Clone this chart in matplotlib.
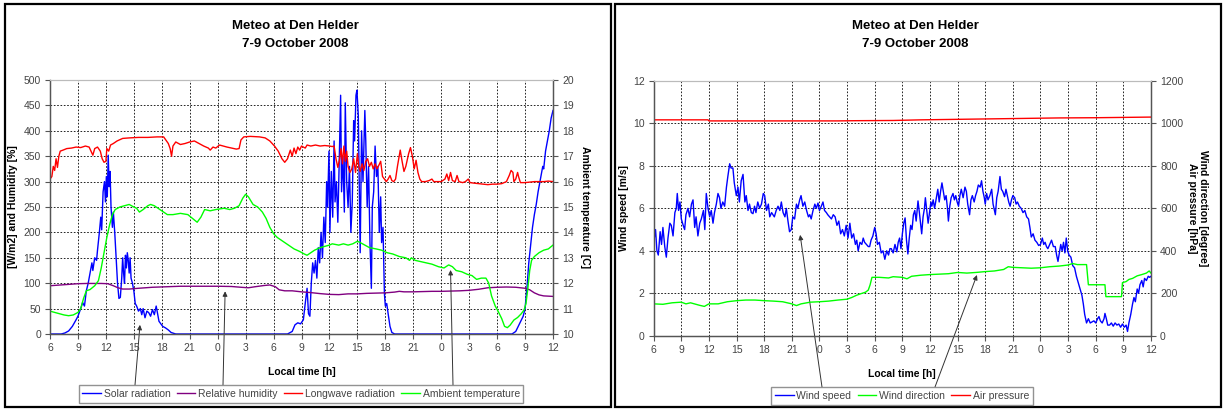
"""Meteo at Den Helder, 7-9 October 2008 - two Excel-style panels."""

import matplotlib
matplotlib.use("Agg")
import matplotlib.pyplot as plt
from matplotlib.patches import Rectangle

plt.rcParams["font.family"] = ["Liberation Sans", "DejaVu Sans"]

# time axis: hours since 06:00 on 7 October
tick_pos = list(range(0, 55, 3))
tick_labels = ["6", "9", "12", "15", "18", "21", "0", "3", "6", "9", "12",
               "15", "18", "21", "0", "3", "6", "9", "12"]

# ---- left panel --------------------------------------------------------
t_solar = [0, 1.2, 1.6, 2.0, 2.4, 2.8, 3.0, 3.3, 3.5, 3.7, 3.9, 4.1, 4.3, 4.5, 4.6, 4.8,
           5.0, 5.1, 5.3, 5.45, 5.55, 5.7, 5.85, 5.95, 6.05, 6.15, 6.25, 6.35, 6.45,
           6.55, 6.7, 6.8, 6.95, 7.1, 7.25, 7.4, 7.55, 7.7, 7.8, 7.9, 8.0, 8.1, 8.2,
           8.3, 8.4, 8.5, 8.6, 8.7, 8.85, 9.0, 9.15, 9.3, 9.5, 9.7, 9.85, 10.0, 10.2,
           10.4, 10.6, 10.8, 11.0, 11.2, 11.4, 11.55, 11.7, 11.9, 12.1, 12.4, 12.7,
           13.0, 13.5, 25.5, 26.0, 26.3, 26.6, 26.9, 27.2, 27.4, 27.6, 27.75, 27.9,
           28.05, 28.2, 28.35, 28.5, 28.65, 28.8, 28.95, 29.1, 29.25, 29.4, 29.55,
           29.7, 29.8, 29.95, 30.05, 30.2, 30.35, 30.5, 30.6, 30.75, 30.9, 31.05,
           31.2, 31.3, 31.45, 31.6, 31.7, 31.85, 32.0, 32.15, 32.3, 32.45, 32.6,
           32.7, 32.85, 32.95, 33.1, 33.2, 33.3, 33.45, 33.6, 33.8, 33.9, 34.05,
           34.2, 34.35, 34.5, 34.6, 34.75, 34.9, 35.05, 35.2, 35.35, 35.5, 35.6,
           35.75, 35.9, 36.0, 36.15, 36.3, 36.5, 36.7, 37.0, 49.6, 50.0, 50.4,
           50.8, 51.0, 51.2, 51.4, 51.6, 51.8, 52.0, 52.2, 52.4, 52.6, 52.8, 52.9,
           53.0, 53.2, 53.4, 53.6, 53.8, 54.0]
solar = [0, 0, 2, 6, 15, 28, 35, 50, 62, 55, 85, 100, 120, 140, 125, 150,
         145, 165, 200, 230, 205, 280, 300, 260, 310, 270, 352, 290, 320,
         250, 210, 240, 200, 150, 100, 70, 72, 110, 150, 120, 100, 155, 130,
         160, 145, 120, 150, 110, 100, 85, 60, 55, 45, 50, 38, 50, 32,
         45, 42, 35, 48, 38, 55, 40, 25, 20, 15, 12, 8,
         3, 0, 0, 5, 18, 22, 20, 28, 60, 90, 40, 35,
         100, 140, 120, 145, 110, 170, 140, 200, 150, 230, 180,
         300, 250, 360, 200, 320, 230, 380, 260, 300, 220, 340,
         470, 280, 350, 240, 455, 300, 250, 330, 200, 260, 420,
         380, 470, 480, 430, 300, 160, 400, 300, 440, 380, 250,
         330, 180, 90, 250, 280, 370, 310, 330, 200, 270, 180,
         210, 80, 55, 60, 40, 15, 3, 0, 0, 5, 20,
         35, 50, 90, 140, 175, 210, 235, 255, 280, 300, 320, 330,
         325, 360, 380, 400, 425, 440]

t_humid = [0, 1.5, 3, 4, 5.5, 6.2, 6.8, 7.3, 7.8, 8.5, 9.5, 11, 12.5, 14, 16, 18,
           19.5, 20.5, 21.3, 22, 23, 23.6, 24.2, 24.6, 25.2, 26, 27, 28, 29, 30,
           31, 32, 33, 34, 35, 36, 37, 37.5, 38, 39, 40, 41, 42, 43, 44, 45, 46,
           47, 48, 49, 50, 51, 51.5, 52, 52.5, 53, 54]
humid = [95, 97, 99, 99.5, 99.5, 99, 95, 91, 88.5, 88.5, 90, 92, 93, 94, 94, 94,
         93.5, 92, 91, 93, 95.5, 96.5, 93, 87, 85, 85, 83, 81.5, 79.5, 78,
         77.5, 79, 79, 80, 80.5, 81, 82.5, 84, 83, 83, 83.5, 84, 84, 84.5, 85, 86, 88,
         91, 92, 92.5, 92, 90, 87, 81, 77, 75, 74]

t_long = [0, 0.2, 0.35, 0.5, 0.65, 0.8, 0.95, 1.1, 1.4, 1.8, 2.3, 2.8, 3.3, 3.8, 4.2,
          4.4, 4.6, 4.8, 5.1, 5.4, 5.6, 5.8, 6.0, 6.1, 6.3, 6.5, 6.8, 7.2, 7.8, 8.5,
          9.5, 10.5, 11.5, 12.2, 12.5, 12.7, 12.9, 13.05, 13.2, 13.5, 14, 14.5, 15,
          15.5, 16, 16.5, 17, 17.2, 17.5, 17.8, 18.2, 18.6, 19, 19.5, 20, 20.3, 20.5,
          20.8, 21.5, 22.5, 23.1, 23.6, 24.1, 24.5, 24.9, 25.2, 25.5, 25.8, 26.0,
          26.2, 26.4, 26.6, 26.8, 27.0, 27.4, 27.6, 28, 28.5, 29, 29.5, 30, 30.3,
          30.5, 30.7, 30.9, 31.1, 31.25, 31.4, 31.55, 31.7, 31.85, 32.0, 32.2, 32.4,
          32.6, 32.8, 33.0, 33.15, 33.3, 33.5, 33.7, 33.9, 34.1, 34.3, 34.5, 34.7,
          34.9, 35.1, 35.3, 35.5, 35.7, 35.9, 36.1, 36.3, 36.5, 36.7, 36.9, 37.1,
          37.3, 37.6, 37.8, 38.0, 38.2, 38.5, 38.7, 38.9, 39.1, 39.3, 39.5, 39.7,
          39.9, 40.3, 40.7, 41.0, 41.2, 41.6, 42, 42.4, 42.6, 42.8, 43.0, 43.2, 43.5,
          43.7, 43.9, 44.3, 44.6, 44.9, 45.1, 45.5, 46, 46.5, 47, 47.5, 48, 48.5, 49,
          49.3, 49.5, 49.7, 49.8, 50.0, 50.2, 50.3, 50.5, 51, 51.5, 52, 52.5, 53,
          53.5, 54]
longwave = [305, 310, 330, 322, 345, 328, 350, 360, 362, 365, 366, 368, 367, 370, 368,
            360, 352, 365, 368, 360, 345, 338, 340, 365, 360, 372, 375, 380, 385, 386,
            387, 387, 388, 388, 380, 375, 365, 350, 370, 378, 373, 375, 378,
            380, 375, 370, 366, 362, 368, 366, 372, 370, 368, 366, 364, 365, 382,
            388, 389, 388, 386, 380, 370, 360, 345, 338, 345, 362, 350,
            366, 355, 368, 362, 370, 366, 372, 370, 372, 370, 371, 370, 369,
            370, 345, 328, 345, 365, 335, 370, 340, 360, 330, 318, 325,
            345, 318, 355, 330, 320, 335, 322, 340, 345, 330, 338, 325,
            335, 325, 332, 340, 310, 305, 300, 305, 312, 302, 300, 305,
            330, 362, 340, 320, 330, 355, 367, 350, 325, 342, 318, 305,
            300, 300, 302, 305, 300, 300, 300, 305, 315, 302, 318, 302, 300,
            312, 300, 298, 300, 305, 298, 297, 296, 295, 294, 295, 295, 296, 300,
            312, 322, 318, 300, 305, 318, 310, 298, 298, 299, 300, 300, 300,
            301, 300]

t_temp = [0, 0.5, 1, 1.5, 2, 2.5, 3, 3.3, 3.6, 3.9, 4.3, 4.8, 5.2, 5.5, 5.8, 6.1, 6.4,
          6.7, 7.0, 7.5, 8.0, 8.5, 9.0, 9.3, 9.6, 10.0, 10.5, 10.8, 11.2, 11.6, 12.0,
          12.6, 13.2, 14, 14.8, 15.3, 15.8, 16.2, 16.6, 17.2, 17.8, 18.7, 19.3, 19.8,
          20.3, 20.7, 21.0, 21.3, 21.8, 22.3, 22.8, 23.2, 23.6, 24.0, 24.4, 25.0,
          25.6, 26.2, 26.8, 27.3, 27.6, 28, 28.4, 29, 29.5, 30, 30.3, 31, 31.5, 32,
          32.5, 33.0, 33.3, 33.8, 34.3, 35, 35.6, 36.2, 36.8, 37.5, 38.2, 38.6, 38.8,
          39.2, 39.8, 40.4, 41, 41.7, 42.3, 42.8, 43.2, 43.6, 44.2, 44.8, 45.3, 45.8,
          46.3, 46.8, 47.1, 47.4, 47.8, 48.1, 48.5, 48.8, 49.1, 49.4, 49.8, 50.2,
          50.6, 50.9, 51.1, 51.3, 51.5, 51.7, 52.0, 52.5, 53.0, 53.5, 54]
temp = [10.9, 10.85, 10.8, 10.75, 10.72, 10.75, 10.85, 11.0, 11.4, 11.7, 11.75, 11.9,
        12.1, 12.6, 13.2, 13.8, 14.3, 14.7, 14.9, 15.0, 15.05, 15.1, 15.0, 14.95, 14.8,
        14.9, 15.05, 15.1, 15.05, 14.95, 14.85, 14.7, 14.7, 14.75, 14.7, 14.55, 14.4,
        14.6, 14.9, 14.85, 14.9, 14.95, 14.9, 14.95, 15.05, 15.35, 15.5, 15.4, 15.1,
        15.0, 14.8, 14.55, 14.2, 13.95, 13.8, 13.65, 13.5, 13.35, 13.25, 13.15, 13.1,
        13.2, 13.3, 13.4, 13.45, 13.5, 13.55, 13.5, 13.55, 13.5, 13.55, 13.65, 13.6,
        13.5, 13.4, 13.35, 13.3, 13.2, 13.15, 13.05, 13.0, 12.9, 13.0, 12.9, 12.85,
        12.8, 12.75, 12.65, 12.6, 12.72, 12.65, 12.5, 12.45, 12.35, 12.3, 12.15, 12.2,
        12.2, 12.0, 11.5, 11.1, 10.9, 10.6, 10.3, 10.25, 10.35, 10.55, 10.65, 10.8,
        10.95, 11.2, 11.8, 12.5, 12.9, 13.05, 13.2, 13.3, 13.35, 13.5]

# ---- right panel -------------------------------------------------------
t_wind = [0, 0.2, 0.35, 0.5, 0.7, 0.85, 1.0, 1.2, 1.37, 1.55, 1.75, 1.91, 2.1, 2.3,
          2.45, 2.56, 2.7, 2.85, 3.0, 3.2, 3.36, 3.5, 3.72, 3.9, 4.1, 4.27, 4.45, 4.6,
          4.8, 5.0, 5.17, 5.4, 5.55, 5.71, 5.9, 6.08, 6.25, 6.44, 6.6, 6.8, 6.98, 7.15,
          7.3, 7.5, 7.7, 7.9, 8.05, 8.25, 8.4, 8.6, 8.75, 8.97, 9.15, 9.3, 9.5, 9.7,
          9.9, 10.05, 10.24, 10.4, 10.6, 10.78, 10.95, 11.1, 11.3, 11.5, 11.7, 11.9,
          12.05, 12.25, 12.45, 12.6, 12.8, 12.95, 13.1, 13.3, 13.5, 13.7, 13.86, 14.05,
          14.25, 14.4, 14.58, 14.75, 14.94, 15.1, 15.3, 15.5, 15.65, 15.85, 16.0, 16.2,
          16.4, 16.6, 16.8, 16.95, 17.1, 17.3, 17.5, 17.65, 17.84, 18.0, 18.2, 18.38,
          18.55, 18.75, 18.9, 19.1, 19.3, 19.5, 19.7, 19.9, 20.1, 20.3, 20.5, 20.7,
          20.9, 21.1, 21.3, 21.5, 21.7, 21.9, 22.05, 22.2, 22.4, 22.6, 22.75, 22.9,
          23.1, 23.3, 23.45, 23.6, 23.8, 24.0, 24.15, 24.3, 24.5, 24.7, 24.9, 25.1,
          25.3, 25.5, 25.65, 25.8, 26.0, 26.2, 26.4, 26.55, 26.7, 26.85, 27.0, 27.15,
          27.3, 27.45, 27.6, 27.75, 27.9, 28.05, 28.2, 28.35, 28.5, 28.7, 28.85, 29.0,
          29.1, 29.25, 29.4, 29.5, 29.65, 29.8, 29.95, 30.1, 30.2, 30.35, 30.5, 30.7,
          30.85, 31.0, 31.15, 31.3, 31.45, 31.6, 31.75, 31.9, 32.0, 32.15, 32.3, 32.5,
          32.65, 32.8, 32.95, 33.1, 33.25, 33.4, 33.6, 33.8, 33.95, 34.1, 34.3, 34.45,
          34.6, 34.8, 34.95, 35.1, 35.25, 35.45, 35.6, 35.75, 35.9, 36.0, 36.15, 36.3,
          36.5, 36.7, 36.85, 37.0, 37.1, 37.25, 37.4, 37.6, 37.75, 37.9, 38.1, 38.25,
          38.4, 38.55, 38.7, 38.85, 39.0, 39.2, 39.35, 39.5, 39.7, 39.9, 40.1, 40.3,
          40.5, 40.7, 40.85, 41.0, 41.2, 41.4, 41.6, 41.8, 42.0, 42.2, 42.35, 42.5,
          42.65, 42.8, 43.0, 43.2, 43.4, 43.6, 43.75, 43.9, 44.05, 44.2, 44.35, 44.5,
          44.65, 44.8, 44.95, 45.1, 45.3, 45.5, 45.7, 45.9, 46.1, 46.3, 46.5, 46.65,
          46.8, 47.0, 47.2, 47.4, 47.6, 47.8, 48.0, 48.2, 48.35, 48.5, 48.7, 48.9,
          49.0, 49.15, 49.3, 49.5, 49.7, 49.9, 50.1, 50.3, 50.5, 50.7, 50.9, 51.1,
          51.3, 51.45, 51.6, 51.8, 52.0, 52.15, 52.3, 52.5, 52.65, 52.8, 53.0, 53.15,
          53.3, 53.5, 53.7, 53.85, 54.0]
wind_speed = [4.4, 5.0, 4.0, 3.8, 4.9, 4.3, 5.1, 4.2, 3.7, 4.6, 5.3, 5.2, 4.7, 5.8,
              6.0, 6.7, 5.9, 6.3, 5.5, 5.2, 5.0, 5.7, 6.0, 5.6, 6.2, 6.4, 5.1, 5.6,
              4.7, 5.3, 5.5, 5.9, 5.0, 6.7, 6.0, 5.6, 5.9, 5.3, 5.8, 6.2, 6.7, 6.5,
              6.0, 6.3, 6.1, 7.0, 7.5, 8.1, 7.9, 7.9, 7.2, 6.6, 7.0, 6.3, 7.3, 7.6,
              6.3, 6.6, 5.9, 6.2, 5.8, 5.75, 6.1, 5.8, 6.3, 6.0, 6.2, 6.7,
              6.6, 5.9, 6.2, 5.6, 5.8, 5.7, 5.6, 5.9, 6.1, 5.9, 6.3, 5.8,
              5.6, 6.0, 5.4, 4.9, 5.0, 5.6, 5.5, 6.2, 6.0, 6.4, 6.6, 6.1,
              6.3, 5.9, 5.6, 5.7, 5.5, 5.9, 6.2, 6.0, 6.25, 5.9, 6.1, 6.3,
              5.9, 5.8, 5.7, 5.6, 5.5, 5.7, 5.6, 5.2, 5.4, 4.8, 5.0, 4.7,
              5.2, 4.6, 5.3, 4.6, 4.8, 4.3, 4.5, 4.0, 4.4, 4.3, 4.6, 4.4,
              4.3, 4.2, 4.2, 4.5, 4.7, 5.1, 4.8, 4.3, 4.4, 3.9, 4.0, 3.6,
              4.0, 3.8, 4.1, 4.1, 3.9, 4.3, 3.95, 4.4, 4.6, 4.1, 4.8, 5.3,
              5.55, 4.5, 3.85, 4.6, 5.2, 5.0, 5.7, 5.9, 5.4, 6.35, 5.8, 5.2,
              4.8, 5.6, 6.0, 6.5, 5.9, 5.3, 5.8, 6.3, 6.1, 6.4, 6.0, 6.5,
              6.9, 6.3, 6.8, 7.2, 6.8, 6.4, 6.6, 6.0, 5.4, 6.1, 6.5, 6.7,
              6.4, 6.6, 6.3, 6.1, 6.6, 6.9, 6.5, 7.0, 6.8, 6.2, 5.7, 6.4,
              6.6, 6.3, 6.6, 6.8, 7.1, 7.0, 7.3, 6.8, 6.5, 6.2, 6.7, 6.4,
              6.6, 6.9, 6.2, 5.9, 5.7, 6.5, 6.8, 7.5, 6.9, 6.8, 6.55, 6.9,
              6.6, 6.3, 6.1, 6.4, 6.6, 6.5, 6.2, 6.3, 6.1, 6.0, 5.8, 5.9,
              5.6, 5.5, 5.1, 4.65, 4.8, 4.5, 4.4, 4.25, 4.3, 4.6, 4.3, 4.4,
              4.2, 4.1, 4.3, 4.5, 4.2, 4.2, 3.8, 3.5, 3.9, 4.3, 4.0, 4.4,
              3.9, 4.6, 4.0, 3.8, 3.7, 3.3, 3.2, 2.8, 2.5, 2.2, 1.9, 1.5,
              1.0, 0.6, 0.8, 0.6, 0.65, 0.7, 0.6, 0.8, 0.9, 0.7, 0.6, 0.8,
              1.05, 0.8, 0.5, 0.5, 0.6, 0.45, 0.6, 0.5, 0.55, 0.4, 0.55, 0.4,
              0.5, 0.2, 0.6, 1.0, 1.5, 1.8, 1.6, 2.2, 2.0, 2.4, 2.6, 2.3,
              2.7, 2.6, 2.8, 2.75, 2.8]

t_dir = [0, 1, 2, 3, 3.5, 4, 5, 5.5, 6, 7, 8, 9, 10, 11, 12, 13, 14, 15, 15.5, 16,
         17, 18, 19, 20, 21, 21.5, 22, 22.5, 23, 23.3, 23.5, 23.7, 24.5, 25.5, 26, 27,
         27.5, 28, 29, 30, 31, 32, 33, 34, 35, 36, 37, 38, 38.5, 39, 40, 41, 42, 43,
         44, 45, 45.5, 46, 47, 47.2, 49, 49.1, 50.8, 50.9, 51.3, 51.6, 52, 52.5, 53,
         53.5, 53.8, 54]
wind_dir = [150, 148, 155, 158, 150, 155, 143, 138, 150, 150, 160, 165, 168, 168, 165,
            163, 160, 150, 142, 150, 158, 160, 163, 168, 172, 180, 190, 198, 205, 215,
            240, 275, 275, 272, 278, 275, 268, 280, 285, 288, 290, 292, 298, 295, 298,
            302, 305, 312, 325, 322, 320, 318, 320, 325, 328, 333, 340, 335, 335, 240,
            240, 184, 184, 250, 255, 265, 270, 282, 288, 295, 305, 295]

t_press = [0, 5.9, 6.0, 20, 22, 26, 29, 34, 39, 44, 48, 54]
pressure = [1017, 1017, 1012, 1012, 1013, 1014, 1017, 1020, 1023, 1026, 1027, 1030]

W, H = 1225, 411
fig = plt.figure(figsize=(W / 100, H / 100), dpi=100)

# panel borders
for x0, x1 in [(5, 611), (615, 1221)]:
    fig.patches.append(Rectangle((x0 / W, 4 / H), (x1 - x0) / W, (407 - 4) / H,
                                 transform=fig.transFigure, fill=False,
                                 ec="black", lw=1.6))

GRID = dict(color="black", lw=0.6, ls=(0, (2, 2)))
TXT = "#444444"
ARROW = dict(arrowstyle="-|>", color="#333333", lw=0.7, mutation_scale=7,
             shrinkA=0, shrinkB=0)
LEG = dict(loc="center", fontsize=7.5, frameon=True, fancybox=False,
           edgecolor="#777777", handlelength=1.8, handletextpad=0.25,
           columnspacing=0.6, borderpad=0.35)


def style(ax, ax2):
    for a in (ax, ax2):
        for s in ("left", "right", "bottom"):
            a.spines[s].set_color("#555555")
            a.spines[s].set_linewidth(0.9)
        a.spines["top"].set_color("#bbbbbb")
        a.tick_params(direction="out", length=3.5, width=0.8, color="#555555",
                      labelsize=7.5, labelcolor=TXT, pad=3)
    ax.set_xlim(0, 54)
    ax.set_xticks(tick_pos)
    ax.set_xticklabels(tick_labels)
    ax.grid(True, **GRID)


# ---- left chart ----
ax = fig.add_axes([50 / W, 1 - 334 / H, 503 / W, 254 / H])
ax2 = ax.twinx()
l1, = ax.plot(t_solar, solar, color="#0000ff", lw=1.0, label="Solar radiation")
l2, = ax.plot(t_humid, humid, color="#800080", lw=1.0, label="Relative humidity")
l3, = ax.plot(t_long, longwave, color="#ff0000", lw=1.0, label="Longwave radiation")
l4, = ax2.plot(t_temp, temp, color="#00ff00", lw=1.0, label="Ambient temperature")
ax.set_ylim(0, 500)
ax.set_yticks(range(0, 501, 50))
ax2.set_ylim(10, 20)
ax2.set_yticks(range(10, 21))
style(ax, ax2)
ax.set_ylabel("[W/m2] and Humidity [%]", fontsize=7.5, fontweight="bold", labelpad=4)
ax2.set_ylabel("Ambient temperature [C]", fontsize=7.5, fontweight="bold",
               rotation=270, labelpad=12)
ax.set_xlabel("Local time [h]", fontsize=7.5, fontweight="bold", labelpad=10)
fig.text(295 / W, 1 - 26 / H, "Meteo at Den Helder", ha="center", va="center",
         fontsize=9.5, fontweight="bold")
fig.text(295 / W, 1 - 44 / H, "7-9 October 2008", ha="center", va="center",
         fontsize=9.5, fontweight="bold")
leg = fig.legend(handles=[l1, l2, l3, l4], ncol=4,
                 bbox_to_anchor=(301 / W, 1 - 394 / H), **LEG)
for txt in leg.get_texts():
    txt.set_color(TXT)
ax.annotate("", xy=(9.66, 18), xytext=(135, H - 385), textcoords="figure pixels",
            arrowprops=ARROW)
ax.annotate("", xy=(18.8, 84), xytext=(223, H - 385), textcoords="figure pixels",
            arrowprops=ARROW)
ax.annotate("", xy=(43.0, 126), xytext=(453, H - 385), textcoords="figure pixels",
            arrowprops=ARROW)

# ---- right chart ----
bx = fig.add_axes([653.7 / W, 1 - 335.7 / H, 497.3 / W, 254.7 / H])
bx2 = bx.twinx()
m1, = bx.plot(t_wind, wind_speed, color="#0000ff", lw=1.0, label="Wind speed")
m2, = bx2.plot(t_dir, wind_dir, color="#00ff00", lw=1.0, label="Wind direction")
m3, = bx2.plot(t_press, pressure, color="#ff0000", lw=1.0, label="Air pressure")
bx.set_ylim(0, 12)
bx.set_yticks(range(0, 13, 2))
bx2.set_ylim(0, 1200)
bx2.set_yticks(range(0, 1201, 200))
style(bx, bx2)
bx.set_ylabel("Wind speed [m/s]", fontsize=7.5, fontweight="bold", labelpad=3)
bx2.set_ylabel("Wind direction [degree]\nAir pressure [hPa]", fontsize=7.5,
               fontweight="bold", rotation=270, labelpad=18)
bx.set_xlabel("Local time [h]", fontsize=7.5, fontweight="bold", labelpad=10)
fig.text(915 / W, 1 - 26 / H, "Meteo at Den Helder", ha="center", va="center",
         fontsize=9.5, fontweight="bold")
fig.text(915 / W, 1 - 44 / H, "7-9 October 2008", ha="center", va="center",
         fontsize=9.5, fontweight="bold")
leg2 = fig.legend(handles=[m1, m2, m3], ncol=3,
                  bbox_to_anchor=(902 / W, 1 - 396 / H), **LEG)
for txt in leg2.get_texts():
    txt.set_color(TXT)
bx.annotate("", xy=(15.9, 4.75), xytext=(822, H - 387), textcoords="figure pixels",
            arrowprops=ARROW)
bx.annotate("", xy=(35.1, 2.86), xytext=(935, H - 387), textcoords="figure pixels",
            arrowprops=ARROW)

fig.savefig("out.png", dpi=100)
